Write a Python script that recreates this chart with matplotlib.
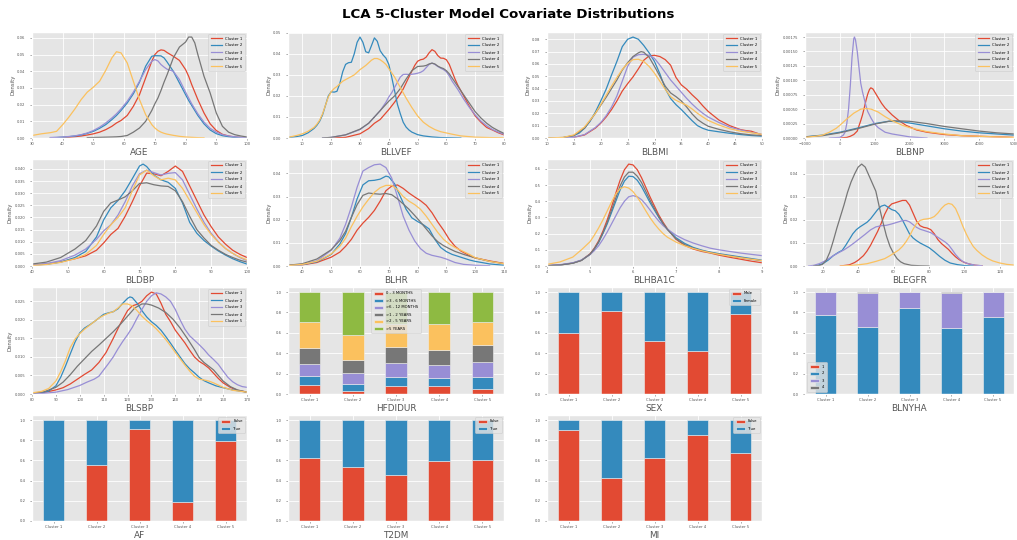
import matplotlib
matplotlib.use("Agg")
import matplotlib.pyplot as plt
from matplotlib.ticker import MultipleLocator

plt.style.use("ggplot")
plt.rcParams["font.family"] = ["DejaVu Sans"]

CLUSTERS = ["Cluster 1", "Cluster 2", "Cluster 3", "Cluster 4", "Cluster 5"]
COLORS = ["#E24A33", "#348ABD", "#988ED5", "#777777", "#FBC15E", "#8EBA42"]

# ---------------------------------------------------------------------------
# Density curves per covariate: one list of (value, density) per cluster
# ---------------------------------------------------------------------------
AGE = [
    [(36, 0.0001), (38, 0.0002), (40, 0.0003), (42, 0.0005), (44, 0.0008), (46, 0.0012), (48, 0.0018),
     (50, 0.0025), (52, 0.0035), (54, 0.0050), (56, 0.0070), (57.5, 0.0090), (59, 0.0105), (61, 0.0135),
     (63, 0.0190), (65, 0.0260), (67, 0.0360), (69, 0.0460), (70, 0.0500), (71, 0.0520), (72, 0.0528),
     (73, 0.0525), (74, 0.0512), (76, 0.0490), (78, 0.0465), (80, 0.0410), (81, 0.0370), (82, 0.0320),
     (83, 0.0275), (84, 0.0230), (86, 0.0150), (88, 0.0085), (90, 0.0045), (92, 0.0022), (94, 0.0012),
     (96, 0.0006), (98, 0.0003), (100, 0.0001)],
    [(36, 0.0002), (38, 0.0003), (40, 0.0005), (42, 0.0008), (44, 0.0012), (46, 0.0018), (48, 0.0028),
     (50, 0.0040), (52, 0.0058), (54, 0.0080), (56, 0.0110), (57.5, 0.0135), (59, 0.0165), (61, 0.0210),
     (63, 0.0265), (65, 0.0335), (67, 0.0430), (69, 0.0490), (70, 0.0493), (71, 0.0493), (72, 0.0492),
     (73, 0.0480), (74, 0.0455), (76, 0.0400), (78, 0.0330), (80, 0.0260), (81, 0.0225), (82, 0.0195),
     (83, 0.0165), (84, 0.0135), (86, 0.0085), (88, 0.0048), (90, 0.0026), (92, 0.0014), (94, 0.0008),
     (96, 0.0004), (98, 0.0002), (100, 0.0001)],
    [(36, 0.0003), (38, 0.0004), (40, 0.0006), (42, 0.0009), (44, 0.0013), (46, 0.0020), (48, 0.0030),
     (50, 0.0045), (52, 0.0065), (54, 0.0090), (56, 0.0120), (57.5, 0.0145), (59, 0.0175), (61, 0.0220),
     (63, 0.0275), (65, 0.0340), (67, 0.0410), (69, 0.0460), (70, 0.0470), (71, 0.0462), (72, 0.0440),
     (73, 0.0425), (74, 0.0412), (76, 0.0400), (78, 0.0350), (80, 0.0275), (81, 0.0240), (82, 0.0205),
     (83, 0.0175), (84, 0.0145), (86, 0.0095), (88, 0.0058), (90, 0.0035), (92, 0.0020), (94, 0.0012),
     (96, 0.0007), (98, 0.0004), (100, 0.0002)],
    [(48, 0.0002), (50, 0.0003), (52, 0.0004), (54, 0.0005), (56, 0.0006), (57.5, 0.0007), (59, 0.0009),
     (61, 0.0015), (63, 0.0035), (65, 0.0060), (67, 0.0100), (69, 0.0165), (70, 0.0205), (71, 0.0240),
     (72, 0.0285), (73, 0.0335), (74, 0.0380), (76, 0.0480), (78, 0.0545), (80, 0.0575), (81, 0.0605),
     (82, 0.0605), (83, 0.0570), (84, 0.0500), (86, 0.0370), (88, 0.0270), (90, 0.0150), (92, 0.0070),
     (94, 0.0035), (96, 0.0020), (98, 0.0012), (100, 0.0006)],
    [(30, 0.0015), (33, 0.0025), (36, 0.0032), (38, 0.0040), (40, 0.0080), (42, 0.0125), (44, 0.0175),
     (46, 0.0230), (48, 0.0275), (50, 0.0305), (52, 0.0340), (54, 0.0405), (56, 0.0480), (57.5, 0.0517),
     (59, 0.0510), (61, 0.0450), (63, 0.0340), (65, 0.0230), (67, 0.0140), (69, 0.0080), (70, 0.0060),
     (71, 0.0045), (72, 0.0035), (73, 0.0028), (74, 0.0023), (76, 0.0016), (78, 0.0010), (80, 0.0006),
     (82, 0.0004), (84, 0.0002), (86, 0.0001)],
]

BLLVEF = [
    [(20, 0.0000), (25, 0.0003), (30, 0.0020), (33, 0.0045), (35, 0.0070), (37, 0.0088), (40, 0.0135),
     (42, 0.0170), (44, 0.0210), (45, 0.0233), (47, 0.0290), (49, 0.0345), (50, 0.0365), (51, 0.0372),
     (52, 0.0375), (53, 0.0385), (54, 0.0405), (55, 0.0420), (56, 0.0412), (57, 0.0392), (58, 0.0380),
     (59, 0.0379), (60, 0.0372), (61, 0.0350), (62, 0.0315), (63, 0.0280), (64, 0.0250), (66, 0.0200),
     (68, 0.0150), (70, 0.0105), (72, 0.0075), (74, 0.0050), (76, 0.0038), (78, 0.0025), (80, 0.0015)],
    [(5, 0.0002), (8, 0.0007), (10, 0.0012), (12, 0.0025), (14, 0.0045), (15, 0.0060), (16, 0.0080),
     (17, 0.0110), (18, 0.0155), (19, 0.0200), (20, 0.0220), (21, 0.0218), (22, 0.0222), (23, 0.0260),
     (24, 0.0315), (25, 0.0350), (26, 0.0358), (27, 0.0360), (28, 0.0400), (29, 0.0455), (30, 0.0480),
     (31, 0.0455), (32, 0.0410), (33, 0.0405), (34, 0.0440), (35, 0.0476), (36, 0.0460), (37, 0.0415),
     (38, 0.0395), (39, 0.0380), (40, 0.0350), (41, 0.0290), (42, 0.0225), (43, 0.0160), (44, 0.0115),
     (45, 0.0075), (46, 0.0052), (47, 0.0038), (48, 0.0028), (50, 0.0016), (52, 0.0010), (55, 0.0005),
     (58, 0.0002), (62, 0.0001), (65, 0.0000)],
    [(17, 0.0000), (20, 0.0003), (25, 0.0015), (30, 0.0040), (33, 0.0070), (35, 0.0100), (37, 0.0130),
     (39, 0.0170), (40, 0.0195), (41, 0.0215), (42, 0.0240), (43, 0.0265), (44, 0.0290), (45, 0.0302),
     (46, 0.0303), (47, 0.0302), (48, 0.0303), (49, 0.0305), (50, 0.0308), (51, 0.0312), (52, 0.0320),
     (53, 0.0335), (54, 0.0350), (55, 0.0356), (56, 0.0350), (57, 0.0340), (58, 0.0332), (59, 0.0325),
     (60, 0.0315), (61, 0.0295), (62, 0.0270), (63, 0.0250), (64, 0.0230), (66, 0.0185), (68, 0.0145),
     (70, 0.0110), (72, 0.0080), (74, 0.0058), (76, 0.0040), (78, 0.0028), (80, 0.0018)],
    [(17, 0.0000), (20, 0.0003), (25, 0.0015), (30, 0.0042), (33, 0.0070), (35, 0.0100), (37, 0.0130),
     (39, 0.0160), (40, 0.0175), (42, 0.0200), (44, 0.0235), (46, 0.0280), (48, 0.0320), (50, 0.0340),
     (52, 0.0342), (53, 0.0345), (54, 0.0352), (55, 0.0356), (56, 0.0352), (57, 0.0342), (58, 0.0335),
     (59, 0.0330), (60, 0.0320), (61, 0.0305), (62, 0.0285), (63, 0.0265), (64, 0.0245), (66, 0.0205),
     (68, 0.0165), (70, 0.0125), (72, 0.0095), (74, 0.0070), (76, 0.0050), (78, 0.0035), (80, 0.0022)],
    [(5, 0.0003), (8, 0.0012), (10, 0.0020), (12, 0.0032), (14, 0.0050), (15, 0.0065), (16, 0.0085),
     (17, 0.0115), (18, 0.0155), (19, 0.0195), (20, 0.0220), (21, 0.0235), (22, 0.0245), (24, 0.0270),
     (26, 0.0285), (28, 0.0300), (30, 0.0325), (32, 0.0345), (34, 0.0370), (35, 0.0378), (36, 0.0378),
     (37, 0.0372), (38, 0.0362), (39, 0.0350), (40, 0.0330), (41, 0.0310), (42, 0.0290), (44, 0.0240),
     (46, 0.0190), (48, 0.0145), (50, 0.0105), (52, 0.0075), (54, 0.0055), (56, 0.0040), (58, 0.0030),
     (60, 0.0024), (62, 0.0018), (65, 0.0010), (70, 0.0004), (75, 0.0002), (80, 0.0001)],
]

BLBMI = [
    [(10, 0.0000), (13, 0.0001), (15, 0.0006), (17, 0.0025), (19, 0.0080), (20, 0.0120), (21, 0.0170),
     (22, 0.0230), (23, 0.0300), (24, 0.0380), (25, 0.0440), (26, 0.0495), (27, 0.0560), (28, 0.0630),
     (29, 0.0665), (30, 0.0670), (31, 0.0660), (32, 0.0635), (33, 0.0590), (34, 0.0490), (35, 0.0430),
     (36, 0.0395), (37, 0.0350), (38, 0.0310), (39, 0.0260), (40, 0.0215), (42, 0.0145), (44, 0.0100),
     (46, 0.0068), (47, 0.0060), (48, 0.0055), (49, 0.0040), (50, 0.0025)],
    [(10, 0.0000), (13, 0.0003), (15, 0.0020), (16, 0.0040), (17, 0.0080), (18, 0.0135), (19, 0.0210),
     (20, 0.0300), (21, 0.0395), (22, 0.0510), (23, 0.0620), (24, 0.0740), (25, 0.0800), (26, 0.0818),
     (27, 0.0800), (28, 0.0750), (29, 0.0690), (30, 0.0620), (31, 0.0520), (32, 0.0400), (33, 0.0320),
     (34, 0.0270), (35, 0.0230), (36, 0.0185), (37, 0.0140), (38, 0.0100), (39, 0.0078), (40, 0.0063),
     (42, 0.0050), (44, 0.0038), (46, 0.0028), (48, 0.0020), (50, 0.0015)],
    [(10, 0.0000), (13, 0.0001), (15, 0.0006), (17, 0.0028), (19, 0.0085), (20, 0.0125), (21, 0.0180),
     (22, 0.0250), (23, 0.0340), (24, 0.0460), (25, 0.0580), (26, 0.0655), (27, 0.0675), (28, 0.0678),
     (29, 0.0670), (30, 0.0645), (31, 0.0590), (32, 0.0530), (33, 0.0470), (34, 0.0420), (35, 0.0370),
     (36, 0.0320), (37, 0.0275), (38, 0.0235), (39, 0.0200), (40, 0.0170), (42, 0.0125), (44, 0.0088),
     (46, 0.0065), (48, 0.0045), (50, 0.0030)],
    [(10, 0.0000), (13, 0.0004), (15, 0.0020), (17, 0.0080), (19, 0.0200), (20, 0.0265), (21, 0.0330),
     (22, 0.0400), (23, 0.0470), (24, 0.0550), (25, 0.0610), (26, 0.0660), (27, 0.0690), (27.5, 0.0700),
     (28, 0.0695), (29, 0.0655), (30, 0.0580), (31, 0.0500), (32, 0.0420), (33, 0.0365), (34, 0.0335),
     (35, 0.0300), (36, 0.0250), (37, 0.0195), (38, 0.0150), (39, 0.0120), (40, 0.0095), (42, 0.0070),
     (44, 0.0050), (46, 0.0035), (48, 0.0025), (50, 0.0020)],
    [(10, 0.0000), (13, 0.0005), (15, 0.0025), (17, 0.0090), (19, 0.0200), (20, 0.0270), (21, 0.0345),
     (22, 0.0420), (23, 0.0490), (24, 0.0555), (25, 0.0605), (26, 0.0635), (27, 0.0638), (28, 0.0620),
     (29, 0.0580), (30, 0.0525), (31, 0.0460), (32, 0.0395), (33, 0.0335), (34, 0.0305), (35, 0.0285),
     (36, 0.0265), (37, 0.0235), (38, 0.0200), (39, 0.0170), (40, 0.0142), (42, 0.0105), (44, 0.0075),
     (46, 0.0055), (48, 0.0042), (50, 0.0030)],
]

BLBNP = [
    [(0, 0.0), (200, 0.00001), (300, 0.00003), (400, 0.00006), (500, 0.00012), (600, 0.00030),
     (650, 0.00040), (700, 0.00052), (750, 0.00065), (800, 0.00076), (850, 0.00084), (890, 0.00087),
     (950, 0.00085), (1000, 0.00080), (1100, 0.00070), (1200, 0.00060), (1300, 0.00052), (1500, 0.00040),
     (1700, 0.00030), (1900, 0.00022), (2200, 0.00014), (2500, 0.00010), (3000, 0.00006), (3500, 0.00004),
     (4000, 0.00003), (4500, 0.00002), (5000, 0.00001)],
    [(-1000, 0.00002), (-500, 0.00005), (0, 0.00010), (500, 0.00017), (1000, 0.00025), (1400, 0.00029),
     (1800, 0.00028), (2200, 0.00024), (2600, 0.00020), (3000, 0.00016), (3500, 0.00012), (4000, 0.00009),
     (4500, 0.00007), (5000, 0.00005)],
    [(-300, 0.0), (0, 0.00001), (100, 0.00005), (150, 0.00010), (200, 0.00025), (250, 0.00050),
     (300, 0.00090), (350, 0.00140), (400, 0.00172), (420, 0.00175), (450, 0.00170), (500, 0.00150),
     (550, 0.00122), (600, 0.00095), (650, 0.00080), (700, 0.00068), (750, 0.00056), (800, 0.00046),
     (900, 0.00034), (1000, 0.00024), (1100, 0.00018), (1200, 0.00014), (1300, 0.00010), (1500, 0.00007),
     (1800, 0.00004), (2000, 0.00002), (2500, 0.0)],
    [(-1000, 0.00002), (-500, 0.00004), (0, 0.00009), (500, 0.00016), (1000, 0.00024), (1500, 0.00030),
     (2000, 0.00029), (2500, 0.00025), (3000, 0.00020), (3500, 0.00016), (4000, 0.00012), (4500, 0.00009),
     (5000, 0.00007)],
    [(-1000, 0.00001), (-700, 0.00003), (-500, 0.00005), (-300, 0.00010), (-100, 0.00017), (0, 0.00022),
     (200, 0.00033), (400, 0.00043), (600, 0.00050), (750, 0.00051), (900, 0.00050), (1100, 0.00045),
     (1300, 0.00037), (1500, 0.00030), (1800, 0.00022), (2000, 0.00018), (2500, 0.00011), (3000, 0.00007),
     (3500, 0.00004), (4000, 0.00003), (4500, 0.00002), (5000, 0.00001)],
]

BLDBP = [
    [(40, 0.0003), (44, 0.0008), (48, 0.0017), (52, 0.0030), (55, 0.0042), (58, 0.0065), (60, 0.0095),
     (62, 0.0130), (64, 0.0155), (66, 0.0205), (68, 0.0265), (70, 0.0330), (72, 0.0383), (74, 0.0380),
     (76, 0.0372), (78, 0.0390), (80, 0.0412), (82, 0.0390), (84, 0.0330), (86, 0.0270), (88, 0.0210),
     (90, 0.0162), (92, 0.0120), (94, 0.0090), (96, 0.0065), (98, 0.0048), (100, 0.0035)],
    [(40, 0.0003), (44, 0.0007), (48, 0.0016), (52, 0.0035), (55, 0.0060), (58, 0.0120), (60, 0.0190),
     (62, 0.0240), (64, 0.0270), (66, 0.0310), (68, 0.0360), (70, 0.0412), (71, 0.0420), (72, 0.0410),
     (74, 0.0375), (76, 0.0355), (78, 0.0345), (80, 0.0320), (82, 0.0260), (84, 0.0180), (86, 0.0135),
     (88, 0.0105), (90, 0.0082), (92, 0.0062), (94, 0.0045), (96, 0.0030), (98, 0.0018), (100, 0.0008)],
    [(40, 0.0004), (44, 0.0010), (48, 0.0022), (52, 0.0045), (55, 0.0070), (58, 0.0110), (60, 0.0145),
     (62, 0.0170), (64, 0.0210), (66, 0.0265), (68, 0.0330), (70, 0.0380), (72, 0.0395), (74, 0.0385),
     (76, 0.0375), (78, 0.0382), (80, 0.0385), (82, 0.0355), (84, 0.0295), (86, 0.0235), (88, 0.0180),
     (90, 0.0135), (92, 0.0100), (94, 0.0072), (96, 0.0052), (98, 0.0035), (100, 0.0022)],
    [(40, 0.0008), (44, 0.0016), (48, 0.0035), (52, 0.0070), (55, 0.0105), (58, 0.0165), (60, 0.0225),
     (62, 0.0260), (64, 0.0272), (66, 0.0285), (68, 0.0310), (70, 0.0340), (72, 0.0343), (74, 0.0335),
     (76, 0.0330), (78, 0.0328), (80, 0.0310), (82, 0.0265), (84, 0.0205), (86, 0.0150), (88, 0.0115),
     (90, 0.0085), (92, 0.0065), (94, 0.0048), (96, 0.0035), (98, 0.0024), (100, 0.0016)],
    [(40, 0.0002), (44, 0.0006), (48, 0.0015), (52, 0.0030), (55, 0.0048), (58, 0.0085), (60, 0.0130),
     (62, 0.0170), (64, 0.0200), (66, 0.0240), (68, 0.0310), (70, 0.0375), (72, 0.0395), (74, 0.0372),
     (76, 0.0355), (78, 0.0362), (80, 0.0355), (82, 0.0320), (84, 0.0270), (86, 0.0220), (88, 0.0170),
     (90, 0.0130), (92, 0.0098), (94, 0.0072), (96, 0.0052), (98, 0.0037), (100, 0.0025)],
]

BLHR = [
    [(35, 0.0002), (40, 0.0005), (45, 0.0015), (50, 0.0038), (53, 0.0060), (55, 0.0085), (57, 0.0115),
     (59, 0.0155), (61, 0.0185), (63, 0.0210), (65, 0.0240), (67, 0.0280), (69, 0.0325), (71, 0.0345),
     (73, 0.0350), (75, 0.0335), (77, 0.0315), (79, 0.0298), (81, 0.0282), (83, 0.0262), (85, 0.0230),
     (87, 0.0190), (89, 0.0155), (91, 0.0115), (93, 0.0085), (95, 0.0065), (98, 0.0045), (100, 0.0035),
     (105, 0.0022), (110, 0.0011)],
    [(35, 0.0002), (40, 0.0006), (45, 0.0018), (50, 0.0050), (53, 0.0095), (55, 0.0140), (57, 0.0210),
     (59, 0.0290), (61, 0.0350), (63, 0.0368), (65, 0.0370), (67, 0.0375), (69, 0.0388), (70, 0.0385),
     (72, 0.0355), (74, 0.0300), (76, 0.0245), (78, 0.0208), (80, 0.0192), (82, 0.0178), (84, 0.0160),
     (86, 0.0115), (88, 0.0080), (90, 0.0062), (92, 0.0050), (95, 0.0038), (98, 0.0026), (100, 0.0020),
     (105, 0.0009), (110, 0.0003)],
    [(35, 0.0002), (40, 0.0007), (45, 0.0022), (50, 0.0068), (53, 0.0120), (55, 0.0180), (57, 0.0255),
     (59, 0.0340), (61, 0.0410), (63, 0.0425), (65, 0.0437), (67, 0.0440), (69, 0.0425), (71, 0.0380),
     (73, 0.0300), (75, 0.0215), (77, 0.0155), (79, 0.0108), (81, 0.0075), (83, 0.0055), (85, 0.0046),
     (88, 0.0038), (90, 0.0030), (93, 0.0015), (96, 0.0007), (100, 0.0003), (105, 0.0001)],
    [(35, 0.0003), (40, 0.0010), (45, 0.0030), (50, 0.0070), (53, 0.0110), (55, 0.0150), (57, 0.0210),
     (59, 0.0265), (61, 0.0305), (63, 0.0315), (65, 0.0312), (67, 0.0310), (69, 0.0313), (71, 0.0308),
     (73, 0.0290), (75, 0.0268), (77, 0.0245), (79, 0.0218), (81, 0.0190), (83, 0.0160), (85, 0.0130),
     (87, 0.0105), (89, 0.0088), (91, 0.0075), (93, 0.0063), (96, 0.0050), (100, 0.0035), (105, 0.0020),
     (110, 0.0010)],
    [(35, 0.0002), (40, 0.0007), (45, 0.0020), (50, 0.0052), (53, 0.0085), (55, 0.0120), (57, 0.0170),
     (59, 0.0215), (61, 0.0255), (63, 0.0288), (65, 0.0318), (67, 0.0338), (69, 0.0348), (71, 0.0348),
     (73, 0.0330), (75, 0.0300), (77, 0.0280), (79, 0.0265), (81, 0.0245), (83, 0.0215), (85, 0.0180),
     (87, 0.0145), (89, 0.0115), (91, 0.0095), (93, 0.0080), (95, 0.0068), (98, 0.0050), (100, 0.0036),
     (105, 0.0020), (110, 0.0010)],
]

BLHBA1C = [
    [(4.0, 0.002), (4.3, 0.006), (4.6, 0.018), (4.8, 0.035), (5.0, 0.075), (5.1, 0.110), (5.2, 0.155),
     (5.3, 0.215), (5.4, 0.285), (5.5, 0.365), (5.6, 0.450), (5.7, 0.530), (5.8, 0.595), (5.9, 0.630),
     (6.0, 0.625), (6.1, 0.595), (6.2, 0.545), (6.3, 0.485), (6.4, 0.425), (6.5, 0.370), (6.6, 0.315),
     (6.7, 0.270), (6.8, 0.230), (7.0, 0.165), (7.2, 0.128), (7.4, 0.105), (7.6, 0.090), (7.8, 0.080),
     (8.0, 0.067), (8.25, 0.054), (8.5, 0.042), (8.75, 0.030), (9.0, 0.020)],
    [(4.0, 0.002), (4.3, 0.006), (4.6, 0.018), (4.8, 0.035), (5.0, 0.072), (5.1, 0.105), (5.2, 0.145),
     (5.3, 0.200), (5.4, 0.260), (5.5, 0.330), (5.6, 0.400), (5.7, 0.470), (5.8, 0.525), (5.9, 0.555),
     (6.0, 0.553), (6.1, 0.530), (6.2, 0.490), (6.3, 0.440), (6.4, 0.390), (6.5, 0.345), (6.6, 0.300),
     (6.7, 0.260), (6.8, 0.228), (7.0, 0.175), (7.2, 0.140), (7.4, 0.115), (7.6, 0.098), (7.8, 0.086),
     (8.0, 0.076), (8.25, 0.066), (8.5, 0.056), (8.75, 0.046), (9.0, 0.036)],
    [(4.0, 0.003), (4.3, 0.008), (4.6, 0.020), (4.8, 0.037), (5.0, 0.070), (5.1, 0.095), (5.2, 0.125),
     (5.3, 0.165), (5.4, 0.210), (5.5, 0.260), (5.6, 0.310), (5.7, 0.360), (5.8, 0.400), (5.9, 0.428),
     (6.0, 0.435), (6.1, 0.428), (6.2, 0.410), (6.3, 0.380), (6.4, 0.345), (6.5, 0.310), (6.6, 0.278),
     (6.7, 0.250), (6.8, 0.228), (7.0, 0.190), (7.2, 0.163), (7.4, 0.142), (7.6, 0.125), (7.8, 0.110),
     (8.0, 0.100), (8.25, 0.090), (8.5, 0.080), (8.75, 0.072), (9.0, 0.064)],
    [(4.0, 0.002), (4.3, 0.006), (4.6, 0.017), (4.8, 0.034), (5.0, 0.072), (5.1, 0.105), (5.2, 0.148),
     (5.3, 0.205), (5.4, 0.270), (5.5, 0.345), (5.6, 0.420), (5.7, 0.495), (5.8, 0.550), (5.9, 0.580),
     (6.0, 0.580), (6.1, 0.555), (6.2, 0.515), (6.3, 0.460), (6.4, 0.405), (6.5, 0.355), (6.6, 0.305),
     (6.7, 0.262), (6.8, 0.225), (7.0, 0.168), (7.2, 0.132), (7.4, 0.110), (7.6, 0.095), (7.8, 0.083),
     (8.0, 0.073), (8.25, 0.062), (8.5, 0.052), (8.75, 0.042), (9.0, 0.032)],
    [(4.0, 0.010), (4.3, 0.025), (4.6, 0.055), (4.8, 0.100), (5.0, 0.150), (5.1, 0.190), (5.2, 0.235),
     (5.3, 0.285), (5.4, 0.340), (5.5, 0.395), (5.6, 0.445), (5.7, 0.478), (5.8, 0.490), (5.9, 0.482),
     (6.0, 0.460), (6.1, 0.425), (6.2, 0.385), (6.3, 0.340), (6.4, 0.297), (6.5, 0.260), (6.6, 0.228),
     (6.7, 0.200), (6.8, 0.178), (7.0, 0.148), (7.2, 0.125), (7.4, 0.108), (7.6, 0.094), (7.8, 0.082),
     (8.0, 0.072), (8.25, 0.061), (8.5, 0.051), (8.75, 0.042), (9.0, 0.034)],
]

BLEGFR = [
    [(30, 0.0000), (35, 0.0005), (38, 0.0015), (40, 0.0025), (43, 0.0045), (45, 0.0065), (47, 0.0090),
     (49, 0.0120), (51, 0.0150), (53, 0.0185), (55, 0.0225), (57, 0.0255), (59, 0.0270), (61, 0.0275),
     (63, 0.0280), (65, 0.0285), (67, 0.0285), (69, 0.0265), (71, 0.0230), (73, 0.0195), (75, 0.0175),
     (77, 0.0168), (79, 0.0165), (81, 0.0158), (83, 0.0140), (85, 0.0115), (87, 0.0098), (89, 0.0085),
     (91, 0.0072), (93, 0.0055), (95, 0.0040), (97, 0.0028), (100, 0.0015), (103, 0.0008), (106, 0.0003),
     (110, 0.0001)],
    [(15, 0.0000), (18, 0.0005), (20, 0.0010), (23, 0.0025), (26, 0.0045), (29, 0.0060), (31, 0.0068),
     (33, 0.0090), (35, 0.0115), (37, 0.0140), (39, 0.0158), (41, 0.0170), (43, 0.0180), (45, 0.0190),
     (47, 0.0205), (49, 0.0225), (51, 0.0245), (53, 0.0260), (55, 0.0265), (57, 0.0255), (59, 0.0245),
     (61, 0.0240), (63, 0.0225), (65, 0.0200), (67, 0.0170), (69, 0.0140), (71, 0.0122), (73, 0.0110),
     (75, 0.0100), (78, 0.0088), (80, 0.0080), (83, 0.0062), (86, 0.0042), (89, 0.0025), (92, 0.0013),
     (96, 0.0006), (100, 0.0002), (105, 0.0000)],
    [(12, 0.0000), (15, 0.0003), (18, 0.0010), (20, 0.0017), (23, 0.0030), (26, 0.0045), (29, 0.0058),
     (32, 0.0070), (35, 0.0085), (38, 0.0102), (41, 0.0120), (44, 0.0138), (47, 0.0157), (50, 0.0170),
     (53, 0.0175), (56, 0.0177), (59, 0.0183), (62, 0.0190), (65, 0.0197), (67, 0.0198), (69, 0.0192),
     (71, 0.0180), (73, 0.0168), (75, 0.0160), (77, 0.0155), (79, 0.0150), (81, 0.0145), (83, 0.0135),
     (85, 0.0125), (87, 0.0115), (89, 0.0105), (91, 0.0092), (93, 0.0072), (95, 0.0050), (97, 0.0033),
     (99, 0.0020), (102, 0.0010), (106, 0.0004), (110, 0.0001)],
    [(15, 0.0000), (18, 0.0002), (20, 0.0008), (22, 0.0025), (24, 0.0060), (26, 0.0110), (28, 0.0165),
     (30, 0.0215), (32, 0.0265), (34, 0.0320), (36, 0.0365), (38, 0.0400), (40, 0.0430), (42, 0.0443),
     (44, 0.0430), (46, 0.0395), (48, 0.0360), (50, 0.0325), (52, 0.0255), (54, 0.0190), (56, 0.0130),
     (58, 0.0085), (60, 0.0055), (62, 0.0032), (64, 0.0018), (66, 0.0010), (70, 0.0003), (75, 0.0001),
     (80, 0.0000)],
    [(30, 0.0000), (35, 0.0002), (40, 0.0005), (45, 0.0010), (50, 0.0020), (55, 0.0032), (58, 0.0045),
     (61, 0.0060), (63, 0.0070), (65, 0.0085), (67, 0.0105), (69, 0.0130), (71, 0.0160), (73, 0.0185),
     (75, 0.0198), (77, 0.0203), (79, 0.0205), (81, 0.0208), (83, 0.0215), (85, 0.0230), (87, 0.0250),
     (89, 0.0265), (91, 0.0272), (93, 0.0268), (95, 0.0250), (97, 0.0215), (99, 0.0175), (101, 0.0140),
     (103, 0.0110), (105, 0.0085), (107, 0.0068), (110, 0.0048), (113, 0.0033), (116, 0.0022),
     (120, 0.0013), (124, 0.0007), (128, 0.0004)],
]

BLSBP = [
    [(80, 0.0001), (85, 0.0004), (90, 0.0011), (93, 0.0017), (96, 0.0027), (99, 0.0040), (102, 0.0053),
     (105, 0.0065), (108, 0.0085), (111, 0.0112), (114, 0.0150), (117, 0.0190), (120, 0.0225),
     (122, 0.0238), (124, 0.0242), (126, 0.0250), (128, 0.0265), (130, 0.0275), (132, 0.0270),
     (134, 0.0245), (136, 0.0215), (138, 0.0195), (140, 0.0172), (142, 0.0155), (144, 0.0138),
     (146, 0.0118), (148, 0.0100), (150, 0.0088), (152, 0.0080), (154, 0.0070), (156, 0.0056),
     (158, 0.0042), (160, 0.0030), (163, 0.0018), (166, 0.0010), (170, 0.0005)],
    [(80, 0.0001), (84, 0.0003), (87, 0.0008), (90, 0.0022), (92, 0.0045), (94, 0.0075), (96, 0.0108),
     (98, 0.0140), (100, 0.0165), (102, 0.0178), (104, 0.0186), (106, 0.0195), (108, 0.0205),
     (110, 0.0215), (112, 0.0219), (114, 0.0222), (116, 0.0230), (118, 0.0245), (120, 0.0258),
     (121, 0.0262), (122, 0.0260), (124, 0.0245), (126, 0.0225), (128, 0.0208), (130, 0.0195),
     (132, 0.0185), (134, 0.0172), (136, 0.0155), (138, 0.0137), (140, 0.0118), (142, 0.0100),
     (144, 0.0082), (146, 0.0068), (148, 0.0057), (150, 0.0045), (152, 0.0036), (154, 0.0030),
     (157, 0.0022), (160, 0.0017), (164, 0.0011), (170, 0.0005)],
    [(80, 0.0001), (85, 0.0002), (90, 0.0005), (95, 0.0012), (100, 0.0023), (103, 0.0032), (106, 0.0040),
     (108, 0.0048), (110, 0.0065), (112, 0.0082), (114, 0.0100), (116, 0.0122), (118, 0.0142),
     (120, 0.0160), (122, 0.0180), (124, 0.0205), (126, 0.0228), (128, 0.0250), (130, 0.0265),
     (132, 0.0273), (134, 0.0270), (136, 0.0262), (138, 0.0250), (140, 0.0228), (142, 0.0200),
     (144, 0.0175), (146, 0.0157), (148, 0.0145), (150, 0.0133), (152, 0.0120), (154, 0.0105),
     (156, 0.0093), (158, 0.0080), (160, 0.0062), (162, 0.0045), (164, 0.0033), (166, 0.0025),
     (168, 0.0020), (170, 0.0018)],
    [(80, 0.0002), (85, 0.0006), (90, 0.0018), (93, 0.0032), (96, 0.0052), (99, 0.0075), (102, 0.0095),
     (105, 0.0115), (108, 0.0132), (111, 0.0150), (114, 0.0168), (117, 0.0188), (120, 0.0210),
     (123, 0.0232), (126, 0.0243), (128, 0.0243), (130, 0.0240), (133, 0.0232), (136, 0.0220),
     (139, 0.0202), (142, 0.0178), (145, 0.0150), (148, 0.0120), (150, 0.0098), (152, 0.0085),
     (154, 0.0075), (156, 0.0065), (158, 0.0050), (160, 0.0035), (163, 0.0020), (166, 0.0011),
     (170, 0.0005)],
    [(80, 0.0003), (84, 0.0007), (87, 0.0015), (90, 0.0035), (92, 0.0060), (94, 0.0090), (96, 0.0125),
     (98, 0.0148), (100, 0.0163), (102, 0.0175), (104, 0.0185), (106, 0.0195), (108, 0.0205),
     (110, 0.0212), (112, 0.0218), (114, 0.0222), (116, 0.0232), (118, 0.0243), (120, 0.0243),
     (122, 0.0238), (124, 0.0225), (126, 0.0210), (128, 0.0198), (130, 0.0188), (132, 0.0176),
     (134, 0.0162), (136, 0.0147), (138, 0.0130), (140, 0.0112), (142, 0.0095), (144, 0.0078),
     (146, 0.0062), (148, 0.0048), (150, 0.0040), (152, 0.0038), (154, 0.0035), (156, 0.0030),
     (158, 0.0024), (160, 0.0018), (164, 0.0010), (170, 0.0005)],
]

# ---------------------------------------------------------------------------
# Categorical covariates: within-cluster proportions (Cluster 1..5)
# ---------------------------------------------------------------------------
HFDIDUR_LEVELS = ["0 - 3 MONTHS", ">3 - 6 MONTHS", ">6 - 12 MONTHS", ">1 - 2 YEARS", ">2 - 5 YEARS", ">5 YEARS"]
HFDIDUR_0_3M = [0.090, 0.026, 0.079, 0.079, 0.049]
HFDIDUR_3_6M = [0.084, 0.069, 0.089, 0.082, 0.115]
HFDIDUR_6_12M = [0.119, 0.109, 0.141, 0.119, 0.152]
HFDIDUR_1_2Y = [0.154, 0.132, 0.155, 0.148, 0.164]
HFDIDUR_2_5Y = [0.257, 0.246, 0.225, 0.256, 0.230]
HFDIDUR_5Y = [0.296, 0.418, 0.311, 0.316, 0.290]

SEX_LEVELS = ["Male", "Female"]
SEX_MALE = [0.595, 0.816, 0.520, 0.421, 0.789]
SEX_FEMALE = [0.405, 0.184, 0.480, 0.579, 0.211]

NYHA_LEVELS = ["1", "2", "3", "4"]
NYHA_1 = [0.000, 0.000, 0.000, 0.000, 0.000]
NYHA_2 = [0.776, 0.658, 0.845, 0.648, 0.760]
NYHA_3 = [0.224, 0.332, 0.155, 0.342, 0.237]
NYHA_4 = [0.000, 0.010, 0.000, 0.010, 0.003]

BOOL_LEVELS = ["False", "True"]
AF_FALSE = [0.000, 0.554, 0.910, 0.188, 0.790]
AF_TRUE = [1.000, 0.446, 0.090, 0.812, 0.210]
T2DM_FALSE = [0.624, 0.535, 0.455, 0.594, 0.604]
T2DM_TRUE = [0.376, 0.465, 0.545, 0.406, 0.396]
MI_FALSE = [0.900, 0.426, 0.624, 0.850, 0.673]
MI_TRUE = [0.100, 0.574, 0.376, 0.150, 0.327]

# ---------------------------------------------------------------------------
# Figure layout (pixel boxes of the 4x4 grid)
# ---------------------------------------------------------------------------
W, H = 1017, 540
COL_EDGES = [(32, 247), (288, 504), (547, 762), (805, 1014)]
ROW_EDGES = [(32, 138), (159, 266), (287, 394), (415, 521)]

TICK_FS = 2.7
LEGEND_FS = 2.7
XLABEL_FS = 6.4
YLABEL_FS = 3.9

fig = plt.figure(figsize=(W / 100, H / 100), dpi=100)


def make_axes(row, col):
    x0, x1 = COL_EDGES[col]
    y0, y1 = ROW_EDGES[row]
    ax = fig.add_axes([x0 / W, 1 - y1 / H, (x1 - x0) / W, (y1 - y0) / H])
    ax.tick_params(axis="both", labelsize=TICK_FS, colors="#555555", length=1.5, width=0.4)
    ax.tick_params(axis="x", pad=1.2)
    ax.tick_params(axis="y", pad=3.2)
    ax.grid(True, color="white", linewidth=0.6)
    return ax


def density_panel(ax, name, curves, xlim, xstep, ystep):
    top = 0.0
    for i, curve in enumerate(curves):
        xs = [p[0] for p in curve]
        ys = [p[1] for p in curve]
        top = max(top, max(ys))
        ax.plot(xs, ys, color=COLORS[i], linewidth=0.9, label=CLUSTERS[i])
    ax.set_xlim(*xlim)
    ax.set_ylim(0, top * 1.05)
    ax.xaxis.set_major_locator(MultipleLocator(xstep))
    ax.yaxis.set_major_locator(MultipleLocator(ystep))
    ax.set_xlabel(name, fontsize=XLABEL_FS, color="#555555", labelpad=1.5)
    ax.set_ylabel("Density", fontsize=YLABEL_FS, color="#555555", labelpad=1.5)
    ax.legend(loc="upper right", fontsize=LEGEND_FS, labelspacing=0.8, handlelength=3.0,
              borderpad=0.7, borderaxespad=0.5)


def stacked_panel(ax, name, series, labels, legend_loc):
    pos = list(range(len(CLUSTERS)))
    bottom = [0.0] * len(CLUSTERS)
    for i, (vals, lab) in enumerate(zip(series, labels)):
        ax.bar(pos, vals, 0.5, bottom=bottom, color=COLORS[i], edgecolor="#EEEEEE",
               linewidth=0.4, label=lab)
        bottom = [b + v for b, v in zip(bottom, vals)]
    ax.set_xticks(pos)
    ax.set_xticklabels(CLUSTERS, rotation=0)
    ax.set_xlim(-0.5, len(CLUSTERS) - 0.5)
    ax.set_ylim(0, 1.05)
    ax.yaxis.set_major_locator(MultipleLocator(0.2))
    ax.set_xlabel(name, fontsize=XLABEL_FS, color="#555555", labelpad=1.5)
    ax.legend(loc=legend_loc, fontsize=LEGEND_FS, labelspacing=0.8, handlelength=2.5,
              borderpad=0.7, borderaxespad=0.5)


density_panel(make_axes(0, 0), "AGE", AGE, (30, 100), 10, 0.01)
density_panel(make_axes(0, 1), "BLLVEF", BLLVEF, (5, 80), 10, 0.01)
density_panel(make_axes(0, 2), "BLBMI", BLBMI, (10, 50), 5, 0.01)
density_panel(make_axes(0, 3), "BLBNP", BLBNP, (-1000, 5000), 1000, 0.00025)
density_panel(make_axes(1, 0), "BLDBP", BLDBP, (40, 100), 10, 0.005)
density_panel(make_axes(1, 1), "BLHR", BLHR, (35, 110), 10, 0.01)
density_panel(make_axes(1, 2), "BLHBA1C", BLHBA1C, (4, 9), 1, 0.1)
density_panel(make_axes(1, 3), "BLEGFR", BLEGFR, (10, 128), 20, 0.01)
density_panel(make_axes(2, 0), "BLSBP", BLSBP, (80, 170), 10, 0.005)

stacked_panel(make_axes(2, 1), "HFDIDUR",
              [HFDIDUR_0_3M, HFDIDUR_3_6M, HFDIDUR_6_12M, HFDIDUR_1_2Y, HFDIDUR_2_5Y, HFDIDUR_5Y],
              HFDIDUR_LEVELS, "upper center")
stacked_panel(make_axes(2, 2), "SEX", [SEX_MALE, SEX_FEMALE], SEX_LEVELS, "upper right")
stacked_panel(make_axes(2, 3), "BLNYHA", [NYHA_1, NYHA_2, NYHA_3, NYHA_4], NYHA_LEVELS, "lower left")
stacked_panel(make_axes(3, 0), "AF", [AF_FALSE, AF_TRUE], BOOL_LEVELS, "upper right")
stacked_panel(make_axes(3, 1), "T2DM", [T2DM_FALSE, T2DM_TRUE], BOOL_LEVELS, "upper right")
stacked_panel(make_axes(3, 2), "MI", [MI_FALSE, MI_TRUE], BOOL_LEVELS, "upper right")

fig.suptitle("LCA 5-Cluster Model Covariate Distributions", fontsize=9.6, fontweight="bold",
             y=1 - 15 / H, va="center")

fig.savefig("out.png", dpi=100)
